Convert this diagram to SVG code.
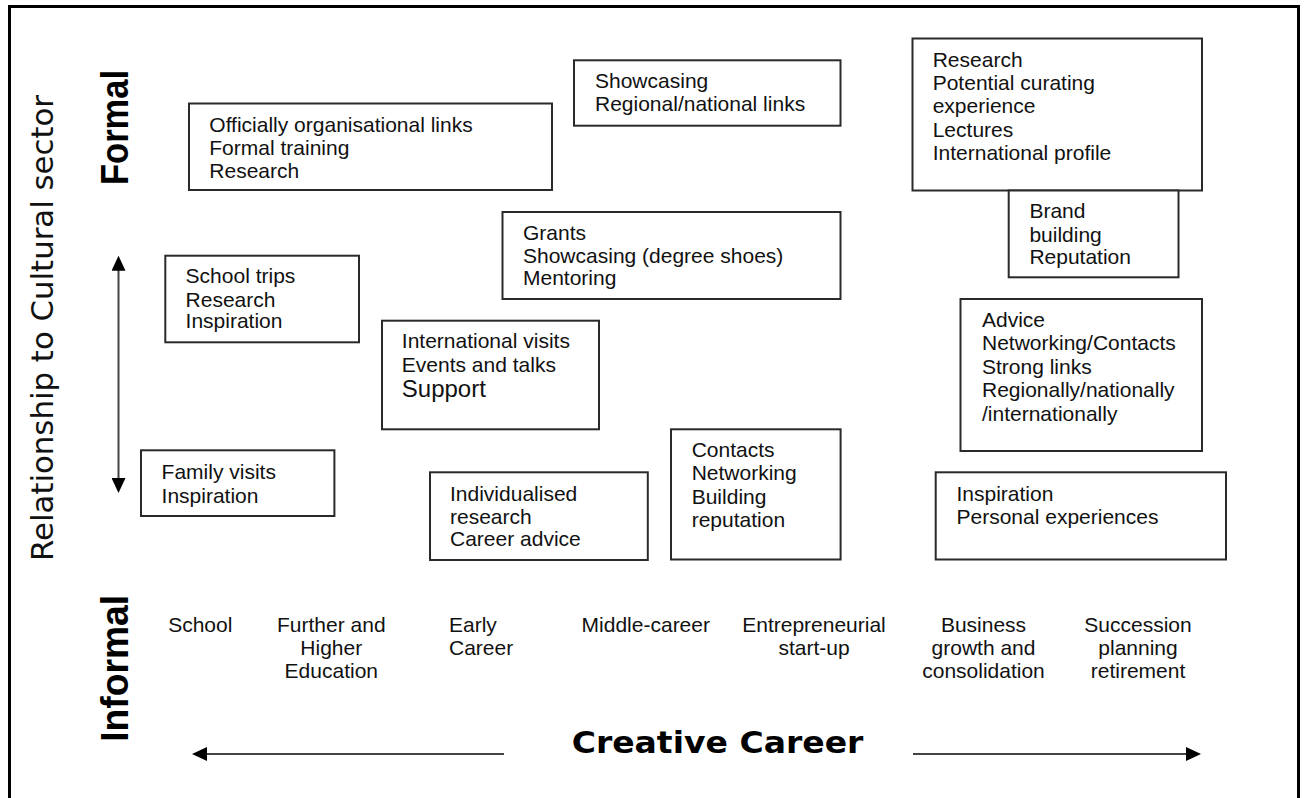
<svg xmlns="http://www.w3.org/2000/svg" width="1304" height="798" viewBox="0 0 1304 798">
<style>
.bg{fill:#fff}
.frame{fill:none;stroke:#000;stroke-width:3}
.box{fill:#fff;stroke:#2a2a2a;stroke-width:2}
.t{font-family:"Liberation Sans",Arial,sans-serif;font-size:21px;fill:#111}
.big{font-size:24px}
.c{text-anchor:middle}
.axis{font-family:"DejaVu Sans",Verdana,sans-serif;font-size:30px;fill:#111}
.lbl{font-family:"Liberation Sans",Arial,sans-serif;font-weight:bold;font-size:38px;fill:#000}
.title{font-family:"DejaVu Sans",Verdana,sans-serif;font-weight:bold;font-size:31px;fill:#000}
.arrow{fill:none;stroke:#444;stroke-width:2}
</style>
<defs>
<marker id="head" markerUnits="userSpaceOnUse" markerWidth="15" markerHeight="14" refX="4" refY="7" orient="auto-start-reverse">
<path d="M0,0 L15,7 L0,14 z" fill="#000"/>
</marker>
</defs>
<rect class="bg" x="0" y="0" width="1304" height="798"/>
<rect class="frame" x="9.5" y="6.5" width="1289" height="800"/>

<g id="axis-labels">
<text class="axis c" transform="translate(53.3,328) rotate(-90)" textLength="466" lengthAdjust="spacingAndGlyphs">Relationship to Cultural sector</text>
<text class="lbl c" transform="translate(128,127.5) rotate(-90)" textLength="115" lengthAdjust="spacingAndGlyphs">Formal</text>
<text class="lbl c" transform="translate(128.3,668.3) rotate(-90)" textLength="147" lengthAdjust="spacingAndGlyphs">Informal</text>
<text class="title c" x="717.5" y="753.3" textLength="291.7" lengthAdjust="spacingAndGlyphs">Creative Career</text>
</g>

<g id="connectors">
<line class="arrow" x1="118.5" y1="266.7" x2="118.5" y2="482" marker-start="url(#head)" marker-end="url(#head)"/>
<line class="arrow" x1="504" y1="754" x2="203" y2="754" marker-end="url(#head)"/>
<line class="arrow" x1="913" y1="754" x2="1190" y2="754" marker-end="url(#head)"/>
</g>

<g id="node-official">
<rect class="box" x="189" y="103.5" width="363" height="86.5"/>
<text class="t" x="209.3" y="132">Officially organisational links</text>
<text class="t" x="209.3" y="155">Formal training</text>
<text class="t" x="209.3" y="177.5">Research</text>
</g>

<g id="node-showcasing">
<rect class="box" x="574" y="60.3" width="266.5" height="65.4"/>
<text class="t" x="595" y="88">Showcasing</text>
<text class="t" x="595" y="111">Regional/national links</text>
</g>

<g id="node-research">
<rect class="box" x="912.5" y="38.5" width="289.5" height="152"/>
<text class="t" x="932.7" y="66.5">Research</text>
<text class="t" x="932.7" y="89.5">Potential curating</text>
<text class="t" x="932.7" y="113">experience</text>
<text class="t" x="932.7" y="136.5">Lectures</text>
<text class="t" x="932.7" y="160">International profile</text>
</g>

<g id="node-brand">
<rect class="box" x="1008.7" y="190.5" width="169.8" height="86.8"/>
<text class="t" x="1029.4" y="218">Brand</text>
<text class="t" x="1029.4" y="241.5">building</text>
<text class="t" x="1029.4" y="264">Reputation</text>
</g>

<g id="node-grants">
<rect class="box" x="502.5" y="212" width="338" height="87"/>
<text class="t" x="523" y="240">Grants</text>
<text class="t" x="523" y="263">Showcasing (degree shoes)</text>
<text class="t" x="523" y="285">Mentoring</text>
</g>

<g id="node-school-trips">
<rect class="box" x="165.3" y="255.7" width="193.7" height="86.6"/>
<text class="t" x="185.6" y="283">School trips</text>
<text class="t" x="185.6" y="306.5">Research</text>
<text class="t" x="185.6" y="328">Inspiration</text>
</g>

<g id="node-international">
<rect class="box" x="382" y="320.7" width="217" height="108.6"/>
<text class="t" x="401.8" y="348">International visits</text>
<text class="t" x="401.8" y="371.5">Events and talks</text>
<text class="t big" x="401.8" y="396.7">Support</text>
</g>

<g id="node-advice">
<rect class="box" x="960.5" y="299" width="241.5" height="152"/>
<text class="t" x="982" y="326.5">Advice</text>
<text class="t" x="982" y="350">Networking/Contacts</text>
<text class="t" x="982" y="373.5">Strong links</text>
<text class="t" x="982" y="397">Regionally/nationally</text>
<text class="t" x="982" y="420.5">/internationally</text>
</g>

<g id="node-family">
<rect class="box" x="141" y="450.3" width="193.4" height="65.7"/>
<text class="t" x="161.6" y="479">Family visits</text>
<text class="t" x="161.6" y="503">Inspiration</text>
</g>

<g id="node-individualised">
<rect class="box" x="430" y="472.3" width="217.8" height="87.7"/>
<text class="t" x="450" y="500.5">Individualised</text>
<text class="t" x="450" y="523.5">research</text>
<text class="t" x="450" y="546">Career advice</text>
</g>

<g id="node-contacts">
<rect class="box" x="671" y="429.3" width="169.6" height="130.2"/>
<text class="t" x="691.7" y="456.5">Contacts</text>
<text class="t" x="691.7" y="480">Networking</text>
<text class="t" x="691.7" y="503.5">Building</text>
<text class="t" x="691.7" y="527">reputation</text>
</g>

<g id="node-inspiration">
<rect class="box" x="935.7" y="472.3" width="290.3" height="87.2"/>
<text class="t" x="956.5" y="500.5">Inspiration</text>
<text class="t" x="956.5" y="523.5">Personal experiences</text>
</g>

<g id="stages">
<text class="t c" x="200.3" y="632">School</text>
<text class="t c" x="331.3" y="632">Further and</text>
<text class="t c" x="331.3" y="655">Higher</text>
<text class="t c" x="331.3" y="678">Education</text>
<text class="t" x="449" y="632">Early</text>
<text class="t" x="449" y="655">Career</text>
<text class="t c" x="645.8" y="632">Middle-career</text>
<text class="t c" x="814" y="632">Entrepreneurial</text>
<text class="t c" x="814" y="655">start-up</text>
<text class="t c" x="983.5" y="632">Business</text>
<text class="t c" x="983.5" y="655">growth and</text>
<text class="t c" x="983.5" y="678">consolidation</text>
<text class="t c" x="1138" y="632">Succession</text>
<text class="t c" x="1138" y="655">planning</text>
<text class="t c" x="1138" y="678">retirement</text>
</g>
</svg>
